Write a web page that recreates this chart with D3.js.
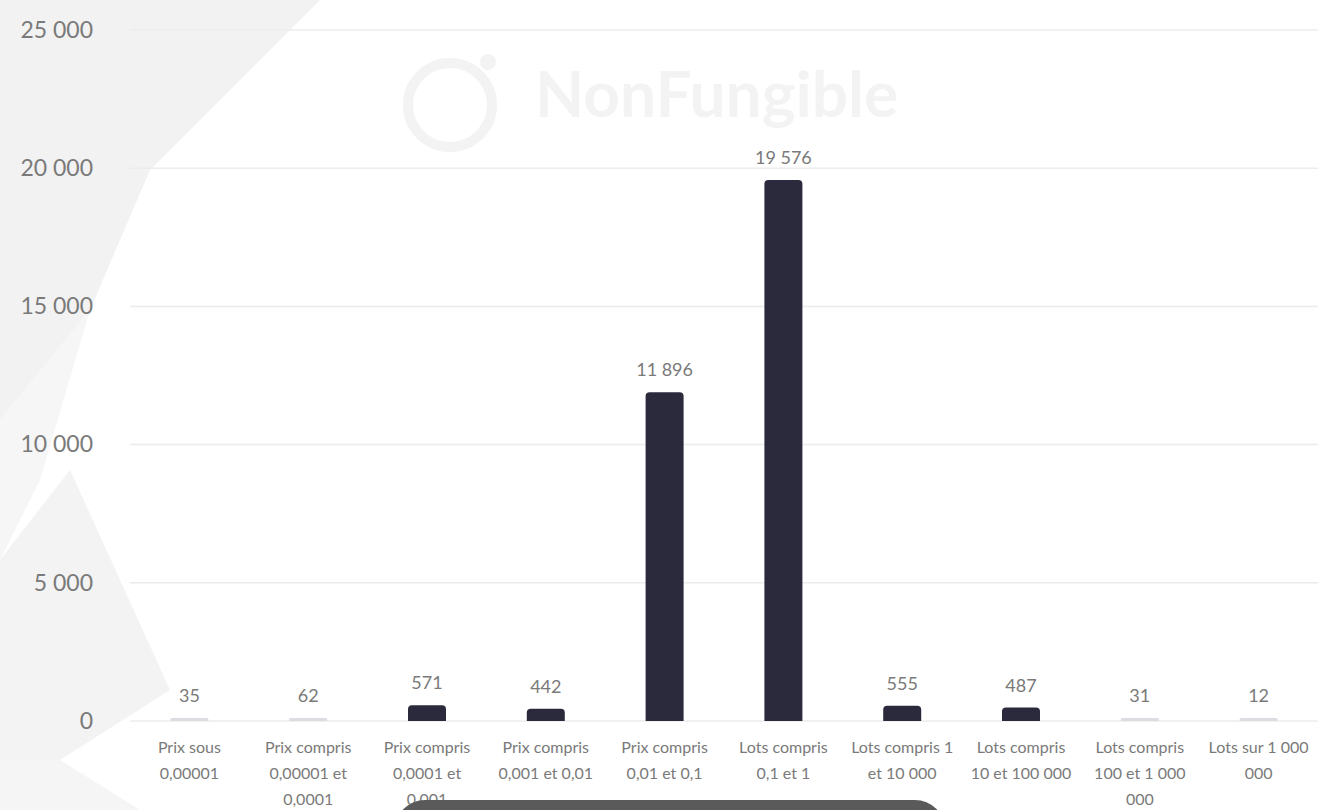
<!DOCTYPE html>
<html><head><meta charset="utf-8">
<script src="https://cdn.jsdelivr.net/npm/d3@7"></script>
<style>body{margin:0;background:#fff;font-family:Lato,"Open Sans",sans-serif;}</style>
</head><body><svg id="c" width="1335" height="810"></svg>
<script>
const categories = ["Prix sous 0,00001","Prix compris 0,00001 et 0,0001","Prix compris 0,0001 et 0,001","Prix compris 0,001 et 0,01","Prix compris 0,01 et 0,1","Lots compris 0,1 et 1","Lots compris 1 et 10 000","Lots compris 10 et 100 000","Lots compris 100 et 1 000 000","Lots sur 1 000 000"];
const values = [35, 62, 571, 442, 11896, 19576, 555, 487, 31, 12];
const yTicks = [0, 5000, 10000, 15000, 20000, 25000];

const svg = d3.select("#c");
const W = 1335, H = 810;
const fmt = v => d3.format(",")(v).replace(/,/g, " ");

// background decoration
svg.append("rect").attr("width", W).attr("height", H).attr("fill", "#fff");
svg.append("polygon").attr("points", "0,0 320,0 150,170 90,310 0,420").attr("fill", "#f2f2f2");
svg.append("polygon").attr("points", "0,420 90,310 40,480 0,560").attr("fill", "#f6f6f6");
svg.append("polygon").attr("points", "0,560 70,470 170,690 60,760 0,810").attr("fill", "#f3f3f3");
svg.append("polygon").attr("points", "0,760 60,760 140,810 0,810").attr("fill", "#f5f5f5");

// watermark
const wm = svg.append("g").attr("opacity", 0.045);
wm.append("circle").attr("cx", 450).attr("cy", 105).attr("r", 42).attr("fill", "none").attr("stroke", "#000").attr("stroke-width", 10);
wm.append("circle").attr("cx", 488).attr("cy", 62).attr("r", 8).attr("fill", "#000");
wm.append("text").attr("x", 535).attr("y", 117).attr("font-size", 64).attr("font-weight", 700).attr("fill", "#000").text("NonFungible");

const x = d3.scaleBand().domain(categories).range([130, 1318]).paddingInner(0).paddingOuter(0);
const y = d3.scaleLinear().domain([0, 25000]).range([721, 30]);

// grid
svg.append("g").selectAll("line").data(yTicks).join("line")
  .attr("x1", 130).attr("x2", 1318).attr("y1", d => y(d)).attr("y2", d => y(d))
  .attr("stroke", "#ececec").attr("stroke-width", 1.5);

// y axis
const ya = svg.append("g").attr("transform", "translate(93,0)")
  .call(d3.axisLeft(y).tickValues(yTicks).tickSize(0).tickFormat(fmt));
ya.select(".domain").remove();
ya.selectAll("text").attr("font-size", 23).attr("fill", "#7a7a7a").attr("font-family", "Lato, sans-serif").attr("x", 0);

// bars
const bw = 38;
svg.append("g").selectAll("path").data(values).join("path")
  .attr("d", (d, i) => {
    const cx = x(categories[i]) + x.bandwidth() / 2;
    const h = Math.max(3, y(0) - y(d));
    const x0 = cx - bw / 2, y0 = y(0) - h;
    const r = Math.min(4, h / 2);
    return `M${x0},${y0 + h} V${y0 + r} Q${x0},${y0} ${x0 + r},${y0} H${x0 + bw - r} Q${x0 + bw},${y0} ${x0 + bw},${y0 + r} V${y0 + h} Z`;
  })
  .attr("fill", (d) => d < 100 ? "#dcdce2" : "#2b2a3c");

// value labels
svg.append("g").selectAll("text").data(values).join("text")
  .attr("x", (d, i) => x(categories[i]) + x.bandwidth() / 2)
  .attr("y", d => Math.min(y(d), y(0) - 3) - 16)
  .attr("text-anchor", "middle").attr("font-size", 18).attr("fill", "#7a7a7a")
  .text(fmt);

// x labels (wrapped)
const xa = svg.append("g").attr("transform", "translate(0,721)")
  .call(d3.axisBottom(x).tickSize(0));
xa.select(".domain").remove();
xa.selectAll("text").attr("font-size", 16).attr("fill", "#7a7a7a").attr("font-family", "Lato, sans-serif")
  .attr("dy", null).attr("y", null)
  .each(function(t) {
    const el = d3.select(this);
    const words = t.split(" ");
    el.text(null);
    let line = [], lineNo = 0;
    const base = 32;
    let ts = el.append("tspan").attr("x", 0).attr("y", base);
    for (const w of words) {
      line.push(w);
      ts.text(line.join(" "));
      if (ts.node().getComputedTextLength() > 108 && line.length > 1) {
        line.pop(); ts.text(line.join(" "));
        line = [w]; lineNo++;
        ts = el.append("tspan").attr("x", 0).attr("y", base + lineNo * 26).text(w);
      }
    }
  });

// bottom overlay
svg.append("rect").attr("x", 395).attr("y", 800).attr("width", 550).attr("height", 60).attr("rx", 30).attr("fill", "#5a5a5a");
</script></body></html>
